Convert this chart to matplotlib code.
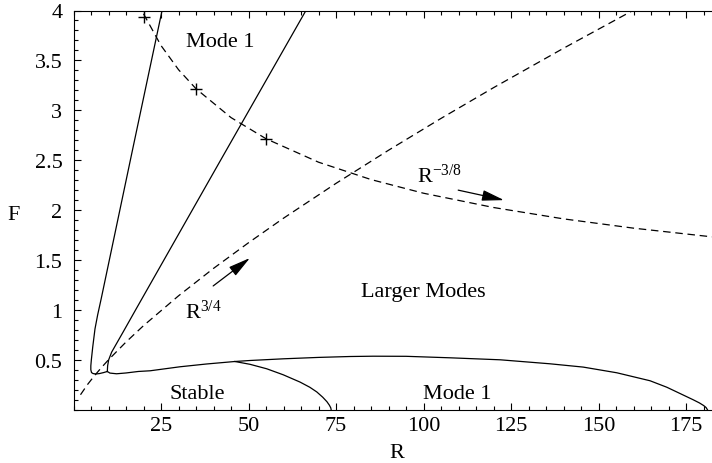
import numpy as np
import matplotlib
matplotlib.use("Agg")
import matplotlib.pyplot as plt
from matplotlib.ticker import MultipleLocator

plt.rcParams["font.family"] = ["Liberation Serif", "DejaVu Serif"]
plt.rcParams["mathtext.fontset"] = "custom"
plt.rcParams["mathtext.rm"] = "Liberation Serif"
plt.rcParams["mathtext.it"] = "Liberation Serif:italic"

# -----------------------------
# values
# -----------------------------
# left solid branch (top -> bottom loop -> junction)
a_R = [25.3, 16.9, 10.9, 7.9, 6.9, 6.14, 5.5, 5.1, 4.95, 4.95, 5.15, 5.6, 6.4, 7.4, 8.6, 9.66]
a_F = [4.0, 2.61, 1.61, 1.11, 0.95, 0.81, 0.63, 0.50, 0.44, 0.40, 0.372, 0.362, 0.358, 0.362, 0.372, 0.383]

# second solid branch
b_R = [66.4, 41.7, 17.9, 14.2, 10.9, 10.05, 9.75, 9.66]
b_F = [4.0, 2.48, 1.01, 0.78, 0.577, 0.50, 0.44, 0.383]

# lower solid boundary
c_R = [9.66, 10.4, 12.3, 15.0, 18.5, 21.9, 30.4, 38.0, 46.1, 50.4, 60.0, 70.0, 79.0, 85.6, 95.0,
       107.6, 121.9, 136.1, 145.6, 155.2, 164.7, 169.5, 174.0, 177.0, 178.8, 180.0, 180.7, 181.1]
c_F = [0.383, 0.367, 0.36, 0.368, 0.383, 0.39, 0.43, 0.458, 0.483, 0.493, 0.51, 0.524, 0.533, 0.536, 0.535,
       0.52, 0.50, 0.46, 0.427, 0.37, 0.29, 0.225, 0.15, 0.10, 0.068, 0.042, 0.022, 0.0]

# branch down to the axis at R ~ 73.5
d_R = [46.1, 50.4, 55.2, 59.9, 64.7, 67.5, 69.5, 71.2, 72.4, 73.1, 73.5, 73.6]
d_F = [0.483, 0.455, 0.41, 0.35, 0.277, 0.225, 0.178, 0.125, 0.08, 0.045, 0.018, 0.0]

# dashed R^{3/4}
p_R = [2.0, 4.0, 6.0, 8.0, 10.0, 15.0, 20.0, 30.0, 40.0, 50.0, 60.0, 75.0, 90.0, 105.0, 120.0, 140.0, 160.0]
p_F = [0.15, 0.252, 0.341, 0.423, 0.50, 0.678, 0.842, 1.141, 1.416, 1.673, 1.919, 2.268, 2.60, 2.919, 3.227, 3.622, 4.004]

# dashed R^{-3/8}
q_R = [20.0, 25.0, 30.0, 35.0, 45.0, 55.0, 70.0, 85.0, 100.0, 120.0, 140.0, 160.0, 182.4]
q_F = [3.967, 3.649, 3.407, 3.216, 2.927, 2.715, 2.48, 2.306, 2.169, 2.026, 1.912, 1.819, 1.732]

# crosses on the R^{-3/8} curve
mark_R = [20.0, 35.0, 55.0]
mark_F = [3.93, 3.216, 2.715]

xticks = [25, 50, 75, 100, 125, 150, 175]
yticks = [0.5, 1, 1.5, 2, 2.5, 3, 3.5, 4]
ytick_labels = ["0.5", "1", "1.5", "2", "2.5", "3", "3.5", "4"]

fig = plt.figure(figsize=(7.12, 4.64), dpi=100)
ax = fig.add_axes([73.5 / 712, 53.3 / 464, 638.5 / 712, 399.2 / 464])

lw = 0.9
dash = (6, 3.8)
ax.plot(a_R, a_F, color="k", lw=lw)
ax.plot(b_R, b_F, color="k", lw=lw)
ax.plot(c_R, c_F, color="k", lw=lw)
ax.plot(d_R, d_F, color="k", lw=lw)
ax.plot(p_R, p_F, color="k", lw=lw, dashes=dash)
ax.plot(q_R, q_F, color="k", lw=lw, dashes=dash)
ax.plot(mark_R, mark_F, ls="none", marker="+", ms=9, mew=1.0, color="k")

arrow = dict(arrowstyle="-|>,head_length=0.9,head_width=0.22", color="k", lw=lw,
             mutation_scale=15, shrinkA=0, shrinkB=0)
ax.annotate("", xy=(50.4, 1.52), xytext=(39.9, 1.24), arrowprops=arrow)
ax.annotate("", xy=(123.0, 2.10), xytext=(109.9, 2.20), arrowprops=arrow)

fs = 16
ax.text(41.9, 3.64, "Mode 1", fontsize=fs, ha="center", va="baseline")
ax.text(100.0, 1.14, "Larger Modes", fontsize=fs, ha="center", va="baseline")
ax.text(35.4, 0.12, "Stable", fontsize=fs, ha="center", va="baseline")
ax.text(109.6, 0.117, "Mode 1", fontsize=fs, ha="center", va="baseline")
ax.text(31.9, 0.917, r"R$^{\mathrm{3/4}}$", fontsize=fs, ha="left", va="baseline")
ax.text(98.1, 2.28, r"R$^{\mathrm{-3/8}}$", fontsize=fs, ha="left", va="baseline")

ax.set_xlim(0, 182.4)
ax.set_ylim(0, 4)
ax.set_xticks(xticks)
ax.set_yticks(yticks)
ax.set_yticklabels(ytick_labels)
ax.xaxis.set_minor_locator(MultipleLocator(5))
ax.yaxis.set_minor_locator(MultipleLocator(0.1))
ax.tick_params(which="both", direction="in", top=True, right=False, width=0.8, labelsize=fs)
ax.tick_params(which="major", length=5)
ax.tick_params(which="minor", length=3)
ax.tick_params(axis="x", pad=4.5)
ax.tick_params(axis="y", pad=8)
ax.spines["right"].set_visible(False)
for s in ["left", "bottom", "top"]:
    ax.spines[s].set_linewidth(0.8)

ax.set_xlabel("R", fontsize=fs)
ax.xaxis.label.set_va("baseline")
ax.xaxis.set_label_coords(0.5067, -0.118)
ax.set_ylabel("F", fontsize=fs, rotation=0)
ax.yaxis.label.set_va("baseline")
ax.yaxis.label.set_ha("center")
ax.yaxis.set_label_coords(-0.0932, 0.477)

fig.savefig("out.png", dpi=100)
